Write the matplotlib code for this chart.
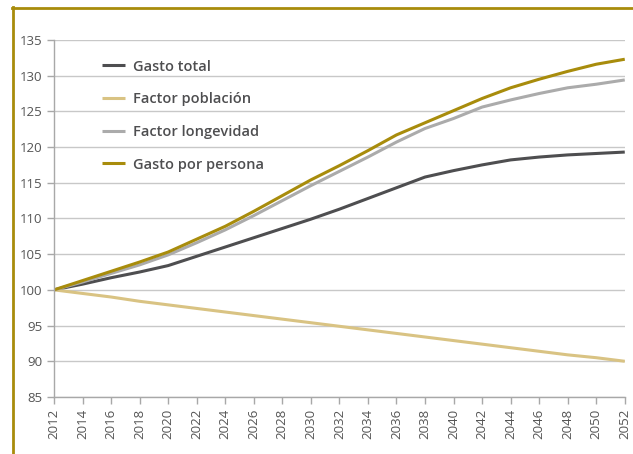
import matplotlib
matplotlib.use("Agg")
import matplotlib.pyplot as plt
from matplotlib.lines import Line2D

# Data (index, 2012 = 100)
years = list(range(2012, 2053, 2))
gasto_total = [100, 100.8, 101.7, 102.5, 103.4, 104.7, 106.0, 107.3, 108.6, 109.9, 111.3,
               112.8, 114.3, 115.8, 116.7, 117.5, 118.2, 118.6, 118.9, 119.1, 119.3]
factor_poblacion = [100, 99.5, 99.0, 98.4, 97.9, 97.4, 96.9, 96.4, 95.9, 95.4, 94.9,
                    94.4, 93.9, 93.4, 92.9, 92.4, 91.9, 91.4, 90.9, 90.5, 90.0]
factor_longevidad = [100, 101.1, 102.3, 103.5, 104.9, 106.6, 108.4, 110.4, 112.5, 114.6, 116.6,
                     118.6, 120.7, 122.6, 124.0, 125.6, 126.6, 127.5, 128.3, 128.8, 129.4]
gasto_persona = [100, 101.3, 102.6, 103.9, 105.3, 107.1, 108.9, 111.0, 113.2, 115.4, 117.4,
                 119.5, 121.7, 123.4, 125.1, 126.8, 128.3, 129.5, 130.6, 131.6, 132.3]

labels = ["Gasto total", "Factor población", "Factor longevidad", "Gasto por persona"]
colors = ["#4e4e50", "#d9c383", "#ababab", "#a88c0c"]
series = [gasto_total, factor_poblacion, factor_longevidad, gasto_persona]
yticks = list(range(85, 136, 5))

plt.rcParams["font.family"] = ["Open Sans", "DejaVu Sans"]

fig = plt.figure(figsize=(6.33, 4.54), dpi=100)
ax = fig.add_axes([0.0853, 0.1256, 0.9017, 0.7864])

for vals, col, lab in zip(series, colors, labels):
    ax.plot(years, vals, color=col, lw=2.2, label=lab, solid_capstyle="butt")

ax.set_xlim(2012, 2052)
ax.set_ylim(85, 135)
ax.set_xticks(years)
ax.set_xticklabels([str(y) for y in years], rotation=90)
ax.set_yticks(yticks)
ax.grid(axis="y", color="#c8c8c8", lw=1)
ax.set_axisbelow(True)

for s in ["top", "right"]:
    ax.spines[s].set_visible(False)
for s in ["left", "bottom"]:
    ax.spines[s].set_color("#a8a8a8")
    ax.spines[s].set_linewidth(1)
ax.tick_params(axis="both", colors="#a8a8a8", labelcolor="#555555", labelsize=9.5,
               length=5, width=1)

leg = ax.legend(loc="upper left", bbox_to_anchor=(0.061, 0.982), frameon=False,
                handlelength=1.6, handletextpad=0.5, labelspacing=1.28,
                prop={"weight": "semibold", "size": 10.5})
for t in leg.get_texts():
    t.set_color("#4e4e50")

# gold frame (top and left edges)
frame_col = "#a88c0c"
fig.add_artist(Line2D([12 / 633, 1], [1 - 8 / 454, 1 - 8 / 454], color=frame_col, lw=2,
                      transform=fig.transFigure))
fig.add_artist(Line2D([13 / 633, 13 / 633], [0, 1 - 7 / 454], color=frame_col, lw=2,
                      transform=fig.transFigure))

fig.savefig("out.png", dpi=100)
